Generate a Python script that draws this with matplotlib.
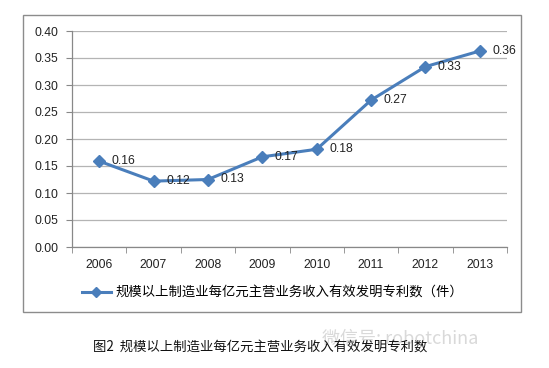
import numpy as np
import matplotlib.pyplot as plt
from matplotlib.patches import Rectangle

plt.rcParams['font.family'] = ['Liberation Sans', 'Noto Sans CJK SC', 'DejaVu Sans']

years = ['2006', '2007', '2008', '2009', '2010', '2011', '2012', '2013']
values = [0.159, 0.122, 0.125, 0.167, 0.181, 0.272, 0.334, 0.363]
labels = ['0.16', '0.12', '0.13', '0.17', '0.18', '0.27', '0.33', '0.36']
yticks = [0.00, 0.05, 0.10, 0.15, 0.20, 0.25, 0.30, 0.35, 0.40]
series_name = '规模以上制造业每亿元主营业务收入有效发明专利数（件）'
caption = '图2  规模以上制造业每亿元主营业务收入有效发明专利数'

W, H = 549, 368
fig = plt.figure(figsize=(W / 100, H / 100), dpi=100)
ax = fig.add_axes([72 / W, 1 - 247 / H, (507 - 72) / W, (247 - 31) / H])

blue = '#4A7EBB'
x = np.arange(len(years))
line, = ax.plot(x, values, color=blue, lw=2.2, marker='D', ms=6.5,
                markerfacecolor=blue, markeredgecolor=blue)
for xi, v, lab in zip(x, values, labels):
    ax.annotate(lab, (xi, v), xytext=(9, 0), textcoords='offset points',
                ha='left', va='center', fontsize=8.7, color='#222222')

ax.set_xlim(-0.5, len(years) - 0.5)
ax.set_ylim(0, 0.4)
ax.set_yticks(yticks)
ax.set_yticklabels([f'{t:.2f}' for t in yticks], fontsize=8.7, color='#222222')
ax.set_xticks(x)
ax.set_xticklabels(years, fontsize=8.7, color='#222222')
ax.set_xticks(np.arange(-0.5, len(years), 1), minor=True)
ax.tick_params(axis='x', which='major', length=0, pad=9)
ax.tick_params(axis='x', which='minor', length=4, color='#888888', direction='out')
ax.tick_params(axis='y', length=4, color='#888888', pad=6)
ax.grid(axis='y', color='#B4B4B4', lw=0.9)
ax.set_axisbelow(True)
for s in ['top', 'right']:
    ax.spines[s].set_visible(False)
for s in ['left', 'bottom']:
    ax.spines[s].set_color('#888888')
    ax.spines[s].set_linewidth(0.9)

# legend
leg = fig.legend([line], [series_name], loc='center left',
                 bbox_to_anchor=(75 / W, 1 - 293 / H), frameon=False,
                 prop={'family': ['Noto Sans CJK SC'], 'size': 9.6},
                 handlelength=2.2, handletextpad=0.3, borderpad=0)
leg.get_lines()[0].set_markersize(5)

# outer chart border
fig.patches.append(Rectangle((23 / W, 1 - 312 / H), (521 - 23) / W, (312 - 15) / H,
                             transform=fig.transFigure, fill=False,
                             edgecolor='#8C8C8C', lw=1.0))

# faint watermark behind the caption, as in the source image
fig.text(322 / W, 1 - 339 / H, '微信号: robotchina', ha='left', va='center',
         fontsize=13, family=['Noto Sans CJK SC', 'DejaVu Sans'], color='#D9D9D9',
         zorder=1)
fig.text(93 / W, 1 - 348 / H, caption, ha='left', va='center', fontsize=9.6,
         family=['Noto Sans CJK SC'], color='#111111', zorder=2)

fig.savefig('out.png', dpi=100)
